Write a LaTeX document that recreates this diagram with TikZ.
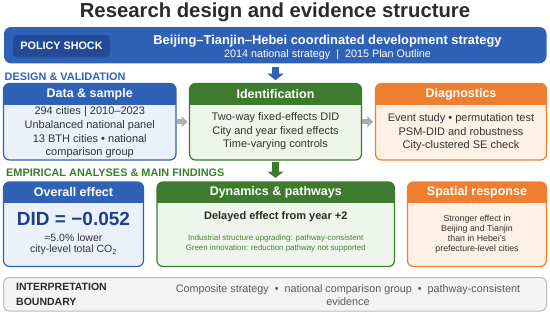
\documentclass[tikz,border=0pt]{standalone}
\usepackage{fontspec}
\setmainfont{Liberation Sans}
\usetikzlibrary{arrows.meta}
\definecolor{bluM}{HTML}{2F62B5}
\definecolor{bluD}{HTML}{234A96}
\definecolor{bluL}{HTML}{EAF1FB}
\definecolor{bluT}{HTML}{1F3F86}
\definecolor{grnM}{HTML}{3E7B2F}
\definecolor{grnL}{HTML}{EEF5EA}
\definecolor{grnT}{HTML}{4A7F3A}
\definecolor{orgM}{HTML}{EE7F31}
\definecolor{orgL}{HTML}{FDF0E5}
\definecolor{gryB}{HTML}{BDBDBD}
\definecolor{gryL}{HTML}{F3F3F3}
\definecolor{gryA}{HTML}{A9AFB6}
\definecolor{txt}{HTML}{333333}
\definecolor{ttl}{HTML}{2B2B2B}
\begin{document}
\begin{tikzpicture}[x=1pt,y=-1pt,
  card/.style={rectangle, inner sep=0pt, outer sep=0pt},
  hdr/.style={text=white, font=\fontsize{12.5}{14}\selectfont\bfseries, inner sep=0pt},
  body/.style={text=txt, align=center, inner sep=0pt, font=\fontsize{11}{13.6}\selectfont},
  sec/.style={anchor=west, inner sep=0pt, font=\fontsize{10.9}{12}\selectfont\bfseries},
  garrow/.style={-{Triangle[length=6pt,width=11pt]}, line width=5pt, draw=gryA},
  barrow/.style={-{Triangle[length=6.5pt,width=16pt]}, line width=7pt, draw=bluM},
  grarrow/.style={-{Triangle[length=6.5pt,width=16pt]}, line width=7pt, draw=grnM},
]
\useasboundingbox (0,0) rectangle (550,316);

% title
\node[inner sep=0pt, text=ttl, font=\fontsize{20.3}{24}\selectfont\bfseries] (title) at (275,12.5) {Research design and evidence structure};

% policy bar
\node[card, fill=bluM, rounded corners=7pt, minimum width=542.5pt, minimum height=36.3pt] (policy) at (275.25,45.15) {};
\node[card, fill=bluD, rounded corners=4pt, minimum width=97pt, minimum height=22pt, text=white, font=\fontsize{10.8}{12}\selectfont\bfseries] (shock) at (61.5,46) {POLICY SHOCK};
\node[inner sep=0pt, text=white, font=\fontsize{12.9}{14}\selectfont\bfseries] (bth) at (327.5,41.5) {Beijing–Tianjin–Hebei coordinated development strategy};
\node[inner sep=0pt, text=white, font=\fontsize{10.8}{12}\selectfont] (bthsub) at (327.5,54.5) {2014 national strategy \ | \ 2015 Plan Outline};

% section labels
\node[sec, text=bluM] (sec1) at (4.5,76.5) {DESIGN \& VALIDATION};
\node[sec, text=grnM] (sec2) at (6,173) {EMPIRICAL ANALYSES \& MAIN FINDINGS};

% ---- cards ----
% data
\node[card, fill=bluL, minimum width=172.5pt, minimum height=76.5pt, rounded corners=6pt] (data) at (89.75,121.75) {};
\begin{scope}\clip[rounded corners=6pt] (3.5,83.5) rectangle (176,160);
\fill[bluM] (3.5,83.5) rectangle (176,105);\end{scope}
\draw[bluM, line width=1.2pt, rounded corners=6pt] (data.north west) rectangle (data.south east);
\node[hdr] (datah) at (89.75,94.5) {Data \& sample};
\node[body] (datab) at (89.75,132.5) {294 cities | 2010–2023\\Unbalanced national panel\\13 BTH cities • national\\comparison group};

% identification
\node[card, fill=grnL, minimum width=172pt, minimum height=76.5pt, rounded corners=6pt] (ident) at (275.5,121.75) {};
\begin{scope}\clip[rounded corners=6pt] (189.5,83.5) rectangle (361.5,160);
\fill[grnM] (189.5,83.5) rectangle (361.5,105);\end{scope}
\draw[grnM, line width=1.2pt, rounded corners=6pt] (ident.north west) rectangle (ident.south east);
\node[hdr] (identh) at (275.5,94.5) {Identification};
\node[body] (identb) at (275.5,131.5) {Two-way fixed-effects DID\\City and year fixed effects\\Time-varying controls};

% diagnostics
\node[card, fill=orgL, minimum width=171pt, minimum height=76.5pt, rounded corners=6pt] (diag) at (461,121.75) {};
\begin{scope}\clip[rounded corners=6pt] (375.5,83.5) rectangle (546.5,160);
\fill[orgM] (375.5,83.5) rectangle (546.5,105);\end{scope}
\draw[orgM, line width=1.2pt, rounded corners=6pt] (diag.north west) rectangle (diag.south east);
\node[hdr] (diagh) at (461,94.5) {Diagnostics};
\node[body] (diagb) at (461,132.5) {Event study • permutation test\\PSM-DID and robustness\\City-clustered SE check};

% overall effect
\node[card, fill=bluL, minimum width=140pt, minimum height=84.5pt, rounded corners=6pt] (overall) at (73.5,224.25) {};
\begin{scope}\clip[rounded corners=6pt] (3.5,182) rectangle (143.5,266.5);
\fill[bluM] (3.5,182) rectangle (143.5,202.5);\end{scope}
\draw[bluM, line width=1.2pt, rounded corners=6pt] (overall.north west) rectangle (overall.south east);
\node[hdr] (overallh) at (73.5,192.5) {Overall effect};
\node[inner sep=0pt, text=bluT, font=\fontsize{19}{22}\selectfont\bfseries] (did) at (73.5,218.5) {DID = −0.052};
\node[body, font=\fontsize{10.5}{11.5}\selectfont] (overallb) at (73.5,244.5) {≈5.0\% lower\\city-level total CO\textsubscript{2}};

% dynamics
\node[card, fill=grnL, minimum width=237.5pt, minimum height=84.5pt, rounded corners=6pt] (dyn) at (275.75,224.25) {};
\begin{scope}\clip[rounded corners=6pt] (157,182) rectangle (394.5,266.5);
\fill[grnM] (157,182) rectangle (394.5,202.5);\end{scope}
\draw[grnM, line width=1.2pt, rounded corners=6pt] (dyn.north west) rectangle (dyn.south east);
\node[hdr] (dynh) at (275.75,192.5) {Dynamics \& pathways};
\node[inner sep=0pt, text=ttl, font=\fontsize{11}{13}\selectfont\bfseries] (delay) at (275.75,217) {Delayed effect from year +2};
\node[body, text=grnT, font=\fontsize{7.9}{9.2}\selectfont] (dynb) at (275.75,243.5) {Industrial structure upgrading: pathway-consistent\\Green innovation: reduction pathway not supported};

% spatial
\node[card, fill=orgL, minimum width=139pt, minimum height=84.5pt, rounded corners=6pt] (spatial) at (477,224.25) {};
\begin{scope}\clip[rounded corners=6pt] (407.5,182) rectangle (546.5,266.5);
\fill[orgM] (407.5,182) rectangle (546.5,202.5);\end{scope}
\draw[orgM, line width=1.2pt, rounded corners=6pt] (spatial.north west) rectangle (spatial.south east);
\node[hdr] (spatialh) at (477,192.5) {Spatial response};
\node[body, font=\fontsize{8.8}{10}\selectfont] (spatialb) at (477,234) {Stronger effect in\\Beijing and Tianjin\\than in Hebei’s\\prefecture-level cities};

% interpretation boundary
\node[card, fill=gryL, draw=gryB, line width=1pt, minimum width=543pt, minimum height=33.5pt, rounded corners=6pt] (interp) at (275,294.25) {};
\node[anchor=west, inner sep=0pt, align=left, text=ttl, font=\fontsize{10.5}{15}\selectfont\bfseries] (interpl) at (16,294.5) {INTERPRETATION\\BOUNDARY};
\node[body, text=black!65, font=\fontsize{10.8}{13}\selectfont] (interpb) at (348,294.7) {Composite strategy \ • \ national comparison group \ • \ pathway-consistent\\evidence};

% connectors
\draw[barrow, shorten <=3.4pt, shorten >=3.3pt] (policy.south -| ident.north) -- (ident.north);
\draw[grarrow, shorten <=2.4pt, shorten >=4pt] (ident.south) -- (ident.south |- dyn.north);
\draw[garrow, shorten <=0.7pt, shorten >=2pt] (data.east) -- (ident.west);
\draw[garrow, shorten <=0.7pt, shorten >=2.2pt] (ident.east) -- (diag.west);
\end{tikzpicture}
\end{document}
